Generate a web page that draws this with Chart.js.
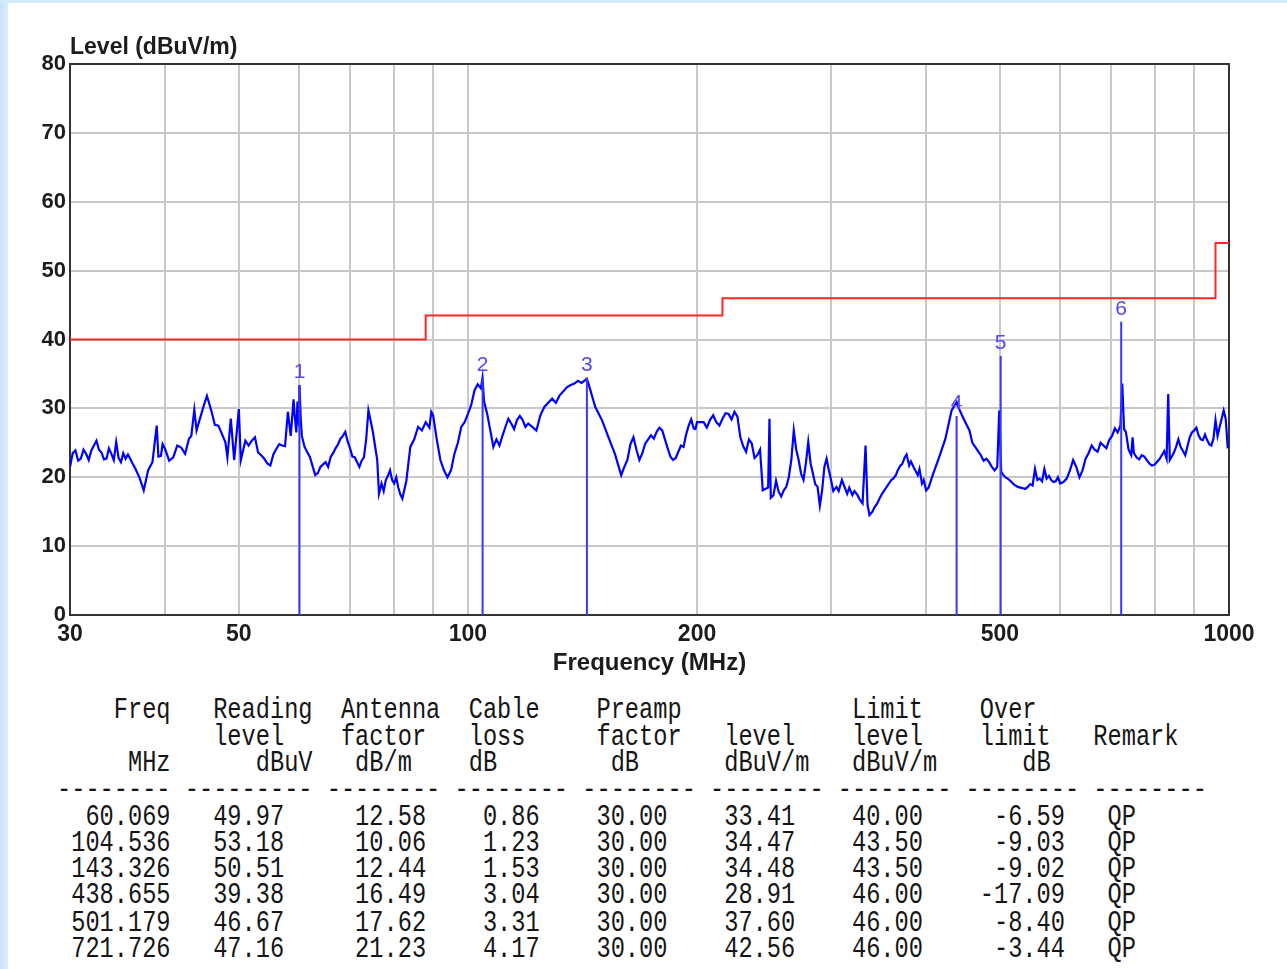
<!DOCTYPE html>
<html>
<head>
<meta charset="utf-8">
<title>Radiated emission 30-1000 MHz</title>
<script src="https://cdn.jsdelivr.net/npm/chart.js@4.4.0/dist/chart.umd.min.js"></script>
<style>
  body { margin: 0; width: 1287px; height: 969px; background: #fff; position: relative; overflow: hidden; }
  #edgeLeft { position: absolute; left: 0; top: 0; width: 8px; height: 969px; background: linear-gradient(to right, #c4e2f6, #dbeefa); }
  #edgeTop { position: absolute; left: 0; top: 0; width: 1287px; height: 3px; background: #d3ebf9; }
  #chartBox { position: absolute; left: 0; top: 0; width: 1287px; height: 690px; }
  #readings { position: absolute; left: 57px; top: 697px; margin: 0; font-family: "Liberation Mono", "DejaVu Sans Mono", monospace;
              font-size: 23.66px; line-height: 21.2px; color: #151515; transform: scaleY(1.25); transform-origin: 0 0; white-space: pre; }
</style>
</head>
<body>
<div id="edgeLeft"></div>
<div id="edgeTop"></div>
<div id="chartBox"><canvas id="emiChart"></canvas></div>
<pre id="readings"></pre>
<script>
// scan trace (MHz / dBuV/m)
const scanFreq = [
  30, 30.25, 30.5, 30.75, 31, 31.25, 31.5, 31.75, 32, 32.25, 32.5, 32.75,
  33, 33.25, 33.5, 33.75, 34, 34.25, 34.5, 34.75, 35, 35.25, 35.5, 35.75,
  36, 36.25, 36.5, 37, 37.5, 38, 38.5, 39, 39.2, 39.5, 39.7, 40,
  40.5, 41, 41.5, 42, 42.5, 43, 43.3, 43.7, 44, 44.5, 45, 45.4,
  46, 46.5, 47, 48, 48.3, 48.8, 49.3, 50, 50.3, 51, 51.5, 52,
  52.5, 53, 53.5, 54, 54.5, 55, 55.5, 56, 56.5, 57, 57.5, 58,
  58.5, 59, 59.2, 59.5, 59.7, 60, 60.07, 60.3, 60.5,
  61, 62, 63, 63.5, 64, 65, 65.5, 66, 66.5, 67, 67.5, 68,
  68.5, 69, 69.5, 70, 70.5, 71, 71.5, 72, 72.5, 73, 73.5, 74,
  74.5, 75, 76, 76.4, 77, 77.5, 78, 78.5, 79, 79.5, 80, 80.5,
  81, 81.5, 82, 83, 84, 85, 86, 87, 88, 89, 89.5, 90,
  91, 92, 93, 94, 95, 96, 97, 98, 99, 100, 101, 102,
  103, 104, 104.5, 105, 106, 108, 109, 110, 111, 112, 113, 114,
  115, 116, 117, 118, 119, 120,
  123, 124.5, 126, 129, 130.5, 132, 135, 136.5, 138, 139.5, 141, 143.3,
  144, 147, 150, 153, 156, 159, 160.5, 162, 163.5, 165, 166.5, 168,
  169.5, 171, 172.5, 174, 175.5, 177, 178.5, 180, 181.5, 183, 184.5, 186,
  187.5, 189, 190.5, 192, 193.5, 195, 196.5, 198, 199, 200,
  204, 206, 208, 210, 212, 214, 216, 218, 220, 222, 224, 226,
  228, 230, 232, 234, 236, 238, 240, 242, 244, 248, 249, 250,
  252, 254, 256, 258, 260, 262, 264, 266, 268, 270, 272, 274,
  276, 278, 280, 282, 284, 286, 288, 290, 292, 294, 296, 298,
  300, 302,
  305, 307, 310, 312, 315, 317, 320, 322, 325, 327, 330, 333,
  335, 337, 340, 342, 345, 347, 350, 352, 355, 357, 360, 362,
  365, 367, 370, 372, 375, 377, 380, 382, 385, 387, 390, 392,
  395, 397, 400, 403,
  408, 416, 424, 432, 438.7, 440, 448, 456, 460, 464, 468, 472,
  476, 480, 484, 488, 492, 496, 499, 502, 504, 508, 512, 516,
  520, 524, 528, 532, 536, 540, 544, 548, 552, 556, 560, 564,
  568, 572, 576, 580, 584, 588, 592, 596, 600, 606,
  612, 618, 624, 630, 636, 642, 648, 654, 660, 666, 672, 678,
  684, 690, 696, 702, 708, 714, 720, 724, 728, 732, 738, 744,
  747, 750, 756, 762, 768, 774, 780, 786, 792, 798, 804, 810,
  816, 822, 828, 832, 836, 840, 846, 852, 858, 864, 870, 876,
  882, 888, 894, 900, 906, 912, 918, 924, 930, 936, 942, 948,
  954, 960, 966, 972, 978, 984, 990, 996, 1000
];
const scanLevel = [
  21.5, 23.5, 23.9, 22.4, 22.7, 24.0, 23.4, 22.5, 23.9, 24.6, 25.3, 24.0,
  23.6, 22.6, 22.7, 24.2, 23.4, 22.5, 25.1, 22.8, 22.2, 23.5, 22.7, 23.3,
  22.7, 22.0, 21.4, 20.0, 18.1, 21.0, 22.2, 27.5, 23.0, 23.1, 24.8, 24.1,
  22.4, 22.9, 24.6, 24.3, 23.4, 25.6, 26.0, 29.8, 26.8, 28.7, 30.5, 31.8,
  29.7, 27.6, 27.5, 25.1, 22.9, 28.5, 22.5, 29.9, 22.5, 25.3, 24.6, 25.3,
  25.8, 23.6, 23.2, 22.7, 22.0, 21.7, 23.3, 24.1, 24.8, 24.6, 24.5, 29.5,
  26.0, 31.3, 29.0, 26.5, 31.0, 27.5, 33.4, 28.5, 26.0,
  24.4, 22.9, 20.3, 20.6, 21.5, 22.2, 21.5, 22.9, 23.5, 24.2, 24.8, 25.6,
  26.0, 26.6, 25.2, 24.2, 23.0, 22.9, 22.2, 21.5, 22.4, 22.9, 25.5, 29.7,
  28.2, 26.6, 22.5, 17.6, 19.1, 18.0, 19.6, 20.2, 21.0, 19.6, 19.1, 20.0,
  18.5, 17.5, 16.9, 19.5, 24.4, 25.5, 27.3, 26.8, 28.0, 27.2, 29.5, 29.0,
  25.5, 22.5, 21.0, 20.0, 21.0, 23.4, 25.0, 27.3, 28.0, 29.2, 30.5, 32.6,
  33.5, 32.9, 34.4, 31.0, 29.2, 24.4, 25.5, 24.6, 26.0, 27.3, 28.5, 27.8,
  27.0, 28.3, 28.9, 28.3, 27.3, 27.8,
  26.8, 29.0, 30.2, 31.4, 30.8, 31.9, 33.1, 33.4, 33.6, 34.0, 33.7, 34.3,
  33.6, 30.2, 28.3, 25.8, 23.4, 20.3, 21.5, 22.5, 24.8, 25.8, 24.0, 22.5,
  23.5, 24.9, 25.5, 26.1, 25.6, 26.6, 27.2, 26.8, 25.5, 24.2, 23.0, 22.5,
  22.8, 23.7, 24.6, 24.4, 26.2, 27.5, 28.4, 27.1, 27.0, 28.0,
  28.0, 27.2, 28.3, 29.0, 28.0, 27.5, 28.5, 29.3, 29.2, 28.4, 29.5, 28.8,
  25.8, 24.5, 23.7, 25.5, 24.9, 22.8, 23.2, 24.0, 18.1, 18.5, 28.5, 17.0,
  17.4, 19.5, 17.9, 17.2, 18.1, 18.6, 20.0, 22.5, 26.8, 24.0, 22.5, 20.5,
  19.6, 22.0, 25.1, 22.0, 20.5, 19.0, 18.6, 15.9, 18.1, 21.5, 22.7, 21.0,
  19.6, 18.0,
  18.6, 18.0, 19.6, 18.8, 17.6, 18.5, 17.4, 18.0, 17.4, 16.8, 16.2, 24.6,
  16.0, 14.5, 15.0, 15.6, 16.2, 16.8, 17.6, 18.0, 18.6, 19.0, 19.6, 19.8,
  20.3, 21.0, 21.7, 21.9, 22.9, 23.3, 21.7, 22.3, 21.5, 21.0, 20.3, 21.2,
  19.1, 19.6, 18.1, 18.5,
  20.3, 22.9, 25.6, 29.7, 30.9, 30.4, 28.5, 26.8, 25.0, 24.4, 23.8, 23.2,
  22.4, 22.7, 22.2, 21.5, 21.0, 21.5, 29.7, 20.8, 20.5, 20.0, 19.8, 19.5,
  19.1, 18.8, 18.6, 18.5, 18.4, 18.3, 18.6, 19.0, 18.8, 21.2, 19.6, 19.8,
  19.4, 21.2, 19.8, 20.2, 19.6, 19.3, 19.4, 20.0, 19.1, 19.3,
  19.8, 21.0, 22.5, 21.5, 20.0, 21.0, 22.7, 23.5, 24.6, 24.0, 23.7, 25.0,
  24.6, 24.2, 25.4, 26.0, 27.1, 26.5, 27.5, 33.6, 27.0, 26.6, 24.0, 23.2,
  25.8, 23.5, 22.9, 22.6, 23.2, 23.0, 22.5, 22.0, 21.7, 21.8, 22.2, 22.6,
  23.2, 23.8, 22.7, 32.1, 22.5, 22.9, 23.5, 24.4, 25.5, 24.4, 23.8, 23.2,
  24.5, 25.8, 26.5, 26.8, 27.2, 26.1, 25.5, 25.4, 26.2, 25.4, 24.8, 24.6,
  25.6, 28.3, 26.0, 27.3, 28.5, 29.7, 28.5, 24.4, 24.5
];

// limit line, each level holds until the next listed frequency
const limitFreq = [30, 88, 216, 960, 1000];
const limitLevel = [40, 43.5, 46, 54, 54];

// QP markers
const markerNo = ['1', '2', '3', '4', '5', '6'];
const markerFreq = [60.069, 104.536, 143.326, 438.655, 501.179, 721.726];
const readingLevel = [49.97, 53.18, 50.51, 39.38, 46.67, 47.16];
const antennaFactor = [12.58, 10.06, 12.44, 16.49, 17.62, 21.23];
const cableLoss = [0.86, 1.23, 1.53, 3.04, 3.31, 4.17];
const preampFactor = [30.00, 30.00, 30.00, 30.00, 30.00, 30.00];
const markerLevel = [33.41, 34.47, 34.48, 28.91, 37.60, 42.56];
const limitAtMarker = [40.00, 43.50, 43.50, 46.00, 46.00, 46.00];
const overLimit = [-6.59, -9.03, -9.02, -17.09, -8.40, -3.44];
const remark = ['QP', 'QP', 'QP', 'QP', 'QP', 'QP'];

// axis ticks
const gridFreq = [30, 40, 50, 60, 70, 80, 90, 100, 200, 300, 400, 500, 600, 700, 800, 900, 1000];
const labelFreq = [30, 50, 100, 200, 500, 1000];

const sansFont = '"Liberation Sans", Arial, sans-serif';

// table under the chart, fixed width text like the receiver printout
const tableLines = [
  '    Freq   Reading  Antenna  Cable    Preamp            Limit    Over',
  '           level    factor   loss     factor   level    level    limit   Remark',
  '     MHz      dBuV   dB/m    dB        dB      dBuV/m   dBuV/m      dB',
  '-------- --------- -------- -------- -------- -------- -------- -------- --------'
];
for (let i = 0; i < markerFreq.length; i++) {
  tableLines.push(
    markerFreq[i].toFixed(3).padStart(8) +
    readingLevel[i].toFixed(2).padStart(8) +
    antennaFactor[i].toFixed(2).padStart(10) +
    cableLoss[i].toFixed(2).padStart(8) +
    preampFactor[i].toFixed(2).padStart(9) +
    markerLevel[i].toFixed(2).padStart(9) +
    limitAtMarker[i].toFixed(2).padStart(9) +
    overLimit[i].toFixed(2).padStart(10) +
    '   ' + remark[i]
  );
}
document.getElementById('readings').textContent = tableLines.join('\n');

// vertical marker lines, broken with nulls
const markerLines = [];
for (let i = 0; i < markerFreq.length; i++) {
  markerLines.push({x: markerFreq[i], y: 0});
  markerLines.push({x: markerFreq[i], y: markerLevel[i]});
  markerLines.push({x: markerFreq[i], y: null});
}

const framePlugin = {
  id: 'plotFrame',
  beforeDatasetsDraw(chart) {
    const {ctx, chartArea: a} = chart;
    ctx.save();
    ctx.strokeStyle = '#333';
    ctx.lineWidth = 2;
    ctx.strokeRect(a.left, a.top, a.right - a.left, a.bottom - a.top);
    ctx.restore();
  }
};

const labelPlugin = {
  id: 'markerLabels',
  afterDatasetsDraw(chart) {
    const {ctx, chartArea: a} = chart;
    const x = chart.scales.x, y = chart.scales.y;
    ctx.save();
    ctx.font = '21px ' + sansFont;
    ctx.fillStyle = '#5548f0';
    ctx.textAlign = 'center';
    ctx.textBaseline = 'alphabetic';
    for (let i = 0; i < markerFreq.length; i++) {
      ctx.fillText(markerNo[i], x.getPixelForValue(markerFreq[i]), y.getPixelForValue(markerLevel[i]) - 7);
    }
    // y axis caption sits above the plot, not rotated
    ctx.font = 'bold 23px ' + sansFont;
    ctx.fillStyle = '#1c1c1c';
    ctx.textAlign = 'left';
    ctx.fillText('Level (dBuV/m)', a.left, a.top - 10);
    ctx.restore();
  }
};

new Chart(document.getElementById('emiChart'), {
  type: 'line',
  data: {
    datasets: [
      {
        label: 'Markers',
        data: markerLines,
        borderColor: '#3838ff',
        borderWidth: 2,
        pointRadius: 0
      },
      {
        label: 'Scan',
        data: scanFreq.map((f, i) => ({x: f, y: scanLevel[i]})),
        borderColor: '#0000ff',
        borderWidth: 2.2,
        pointRadius: 0,
        tension: 0
      },
      {
        label: 'Limit',
        data: limitFreq.map((f, i) => ({x: f, y: limitLevel[i]})),
        borderColor: '#ff2626',
        borderWidth: 2,
        pointRadius: 0,
        stepped: 'before'
      }
    ]
  },
  options: {
    animation: false,
    responsive: true,
    maintainAspectRatio: false,
    layout: { padding: { top: 64, right: 58, bottom: 0, left: 0 } },
    plugins: { legend: { display: false }, tooltip: { enabled: false } },
    scales: {
      x: {
        type: 'logarithmic',
        min: 30,
        max: 1000,
        afterBuildTicks: s => { s.ticks = gridFreq.map(v => ({value: v})); },
        afterFit: s => { s.height = 75; },
        grid: { color: '#c8c8c8', lineWidth: 2, drawTicks: false },
        border: { display: false },
        ticks: {
          autoSkip: false,
          maxRotation: 0,
          padding: 6,
          color: '#1c1c1c',
          font: { family: sansFont, size: 23, weight: 'bold' },
          callback: v => labelFreq.includes(v) ? String(v) : ''
        },
        title: {
          display: true,
          text: 'Frequency (MHz)',
          color: '#1c1c1c',
          font: { family: sansFont, size: 24, weight: 'bold' },
          padding: { top: 0, bottom: 12 }
        }
      },
      y: {
        min: 0,
        max: 80,
        afterFit: s => { s.width = 70; },
        grid: { color: '#c8c8c8', lineWidth: 2, drawTicks: false },
        border: { display: false },
        ticks: {
          stepSize: 10,
          padding: 4,
          color: '#1c1c1c',
          font: { family: sansFont, size: 22, weight: 'bold' }
        }
      }
    }
  },
  plugins: [framePlugin, labelPlugin]
});
</script>
</body>
</html>
